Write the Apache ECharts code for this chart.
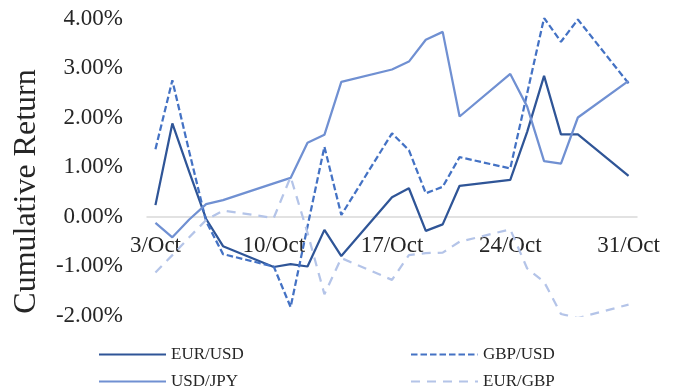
<!DOCTYPE html>
<html>
<head>
<meta charset="utf-8">
<script src="https://cdn.jsdelivr.net/npm/echarts@6/dist/echarts.min.js"></script>
<style>
  html, body { margin: 0; padding: 0; background: #fff; }
  #chart { width: 680px; height: 389px; }
</style>
</head>
<body>
<div id="chart"></div>
<script>
// Trading days in October (weekends have no fixing)
const tradingDays = [3, 4, 5, 6, 7, 10, 11, 12, 13, 14, 17, 18, 19, 20, 21, 24, 25, 26, 27, 28, 31];

// Cumulative returns, in percent
const eurUsd = [0.23, 1.88, 0.90, -0.05, -0.60, -1.02, -0.96, -1.01, -0.27, -0.80, 0.39, 0.57, -0.29, -0.16, 0.62, 0.74, 1.71, 2.84, 1.66, 1.66, 0.82];
const gbpUsd = [1.36, 2.75, 1.31, -0.10, -0.76, -1.01, -1.83, -0.20, 1.41, 0.03, 1.68, 1.34, 0.47, 0.60, 1.20, 0.97, 2.49, 4.01, 3.53, 3.98, 2.69];
const usdJpy = [-0.13, -0.42, -0.06, 0.25, 0.33, 0.67, 0.78, 1.49, 1.65, 2.72, 2.97, 3.13, 3.57, 3.73, 2.02, 2.88, 2.22, 1.12, 1.07, 2.00, 2.74];
const eurGbp = [-1.13, -0.78, -0.42, -0.07, 0.12, -0.03, 0.80, -0.33, -1.57, -0.84, -1.28, -0.78, -0.74, -0.73, -0.51, -0.26, -1.05, -1.32, -1.97, -2.05, -1.78];

// Y scale in percent
const yMin = -2, yMax = 4, yStep = 1;

// Calendar axis: every day from 3 Oct to 31 Oct
const firstDay = 3, lastDay = 31;
const calendarDays = [];
for (let d = firstDay; d <= lastDay; d++) calendarDays.push(d + '/Oct');

const FONT = '"Liberation Serif", "Times New Roman", serif';
const TEXT = '#262626';

const GRID_TOP = 18.5, GRID_BOTTOM = 73.5, CHART_H = 389;
const plotHeight = CHART_H - GRID_TOP - GRID_BOTTOM;
// lift the category axis up to the zero line
const zeroLift = -plotHeight * (0 - yMin) / (yMax - yMin);

function pairs(values) {
  return tradingDays.map((d, i) => [d + '/Oct', values[i]]);
}

function lineSeries(name, values, color, type) {
  return {
    name: name,
    type: 'line',
    data: pairs(values),
    symbol: 'none',
    smooth: false,
    lineStyle: { color: color, width: 2.25, type: type },
    itemStyle: { color: color },
    emphasis: { disabled: true }
  };
}

function legendAt(name, left, top) {
  return {
    data: [name],
    left: left,
    top: top,
    padding: 0,
    itemWidth: 67,
    itemHeight: 14,
    selectedMode: false,
    itemStyle: { opacity: 0 },
    textStyle: { fontFamily: FONT, fontSize: 17, color: TEXT }
  };
}

const chart = echarts.init(document.getElementById('chart'), null, { renderer: 'canvas' });

chart.setOption({
  animation: false,
  backgroundColor: '#ffffff',
  grid: { left: 147, right: 43, top: GRID_TOP, bottom: GRID_BOTTOM, containLabel: false },
  legend: [
    legendAt('EUR/USD', 98, 346),
    legendAt('GBP/USD', 410, 346),
    legendAt('USD/JPY', 98, 373),
    legendAt('EUR/GBP', 410, 373)
  ],
  graphic: [{
    type: 'text',
    x: 27,
    y: 191.5,
    rotation: Math.PI / 2,
    style: {
      text: 'Cumulative Return',
      fontFamily: FONT,
      fontSize: 32,
      fill: TEXT,
      align: 'center',
      verticalAlign: 'middle'
    }
  }],
  xAxis: {
    type: 'category',
    data: calendarDays,
    boundaryGap: true,
    position: 'bottom',
    offset: zeroLift,
    axisLine: { onZero: false, lineStyle: { color: '#d9d9d9', width: 1.5 } },
    axisTick: { show: false },
    axisLabel: {
      interval: 6,
      margin: 18,
      fontFamily: FONT,
      fontSize: 23,
      color: TEXT
    },
    splitLine: { show: false }
  },
  yAxis: {
    type: 'value',
    min: yMin,
    max: yMax,
    interval: yStep,
    axisLine: { show: false },
    axisTick: { show: false },
    splitLine: { show: false },
    axisLabel: {
      margin: 24,
      fontFamily: FONT,
      fontSize: 23,
      color: TEXT,
      formatter: v => v.toFixed(2) + '%'
    }
  },
  series: [
    lineSeries('EUR/USD', eurUsd, '#2f5597', 'solid'),
    lineSeries('GBP/USD', gbpUsd, '#4472c4', [6.5, 3]),
    lineSeries('USD/JPY', usdJpy, '#7090d2', 'solid'),
    lineSeries('EUR/GBP', eurGbp, '#b4c4e8', [9, 7])
  ]
});
</script>
</body>
</html>
